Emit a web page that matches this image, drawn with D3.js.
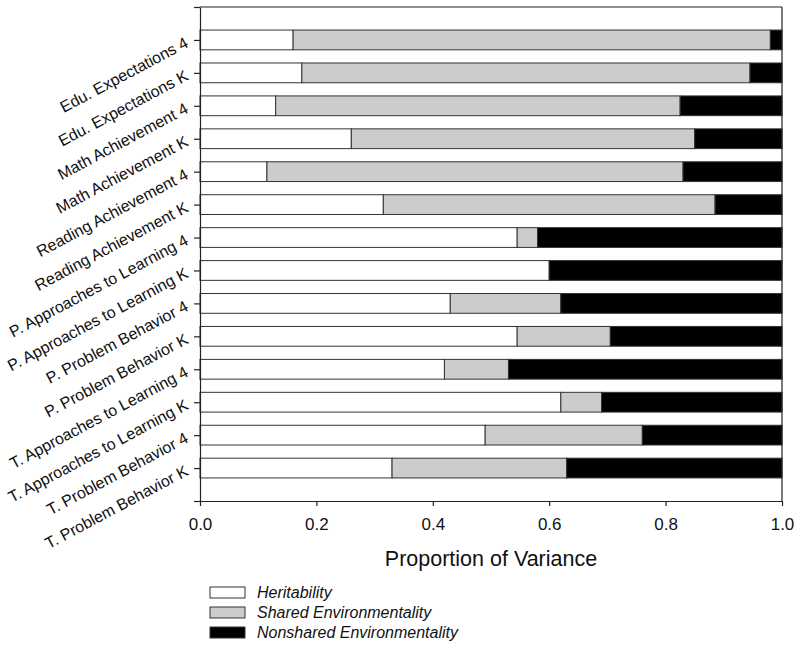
<!DOCTYPE html>
<html>
<head>
<meta charset="utf-8">
<script src="https://cdn.jsdelivr.net/npm/d3@7"></script>
<style>
  html, body { margin: 0; padding: 0; background: #fff; }
  svg { display: block; font-family: Arial, "Liberation Sans", sans-serif; }
</style>
</head>
<body>
<svg id="chart" width="800" height="648"></svg>
<script>
// ---- Data (top to bottom) ----
const categories = [
  "Edu. Expectations 4",
  "Edu. Expectations K",
  "Math Achievement 4",
  "Math Achievement K",
  "Reading Achievement 4",
  "Reading Achievement K",
  "P. Approaches to Learning 4",
  "P. Approaches to Learning K",
  "P. Problem Behavior 4",
  "P. Problem Behavior K",
  "T. Approaches to Learning 4",
  "T. Approaches to Learning K",
  "T. Problem Behavior 4",
  "T. Problem Behavior K"
];
const heritability = [0.16, 0.175, 0.13, 0.26, 0.115, 0.315, 0.545, 0.60, 0.43, 0.545, 0.42, 0.62, 0.49, 0.33];
const sharedEnv    = [0.82, 0.77, 0.695, 0.59, 0.715, 0.57, 0.035, 0.00, 0.19, 0.16, 0.11, 0.07, 0.27, 0.30];
const nonsharedEnv = [0.02, 0.055, 0.175, 0.15, 0.17, 0.115, 0.42, 0.40, 0.38, 0.295, 0.47, 0.31, 0.24, 0.37];
const seriesNames = ["Heritability", "Shared Environmentality", "Nonshared Environmentality"];
const seriesColors = ["#ffffff", "#cccccc", "#000000"];
const xTicks = [0, 0.2, 0.4, 0.6, 0.8, 1.0];
const xTitle = "Proportion of Variance";

(function () {
// ---- Layout ----
const svg = d3.select("#chart");
const pLeft = 200, pRight = 782, pTop = 7, pBottom = 501;

const x = d3.scaleLinear().domain([0, 1]).range([pLeft, pRight]);
// categories placed at positions 14 (top) .. 1 (bottom) on a 0..15 scale
const y = d3.scaleLinear().domain([0, 15]).range([pBottom, pTop]);
const pos = (i) => categories.length - i;
const barHalf = 0.3;

const rows = categories.map((c, i) => ({
  cat: c, idx: i,
  h: heritability[i], s: sharedEnv[i], n: nonsharedEnv[i]
}));
const stack = d3.stack().keys(["h", "s", "n"]);
const layers = stack(rows);

// ---- Bars ----
const g = svg.append("g");
layers.forEach((layer, li) => {
  g.selectAll(null)
    .data(layer)
    .join("rect")
    .attr("x", d => x(d[0]))
    .attr("width", d => Math.max(0, x(d[1]) - x(d[0])))
    .attr("y", d => y(pos(d.data.idx) + barHalf))
    .attr("height", d => y(pos(d.data.idx) - barHalf) - y(pos(d.data.idx) + barHalf))
    .attr("fill", seriesColors[li])
    .attr("stroke", "#333")
    .attr("stroke-width", 1);
});

// ---- Frame (top & right) ----
svg.append("line").attr("x1", pLeft).attr("x2", pRight).attr("y1", pTop).attr("y2", pTop)
  .attr("stroke", "#222").attr("stroke-width", 1.2);
svg.append("line").attr("x1", pRight).attr("x2", pRight).attr("y1", pTop).attr("y2", pBottom)
  .attr("stroke", "#222").attr("stroke-width", 1.2);

// ---- X axis ----
const xAxis = svg.append("g")
  .attr("transform", `translate(0,${pBottom})`)
  .call(d3.axisBottom(x).tickValues(xTicks).tickFormat(d3.format(".1f"))
        .tickSize(5).tickPadding(12).tickSizeOuter(0));
xAxis.select(".domain").attr("stroke", "#222").attr("stroke-width", 1.2);
xAxis.selectAll(".tick line").attr("stroke", "#222").attr("stroke-width", 1.2);
xAxis.selectAll(".tick text").attr("font-size", 17).attr("fill", "#111")
  .attr("font-family", "Arial, 'Liberation Sans', sans-serif");

// ---- Y axis (ticks only) ----
const yAxis = svg.append("g")
  .attr("transform", `translate(${pLeft},0)`)
  .call(d3.axisLeft(y).tickValues(d3.range(0, 16)).tickFormat("").tickSize(6).tickSizeOuter(0));
yAxis.select(".domain").attr("stroke", "#222").attr("stroke-width", 1.2);
yAxis.selectAll(".tick line").attr("stroke", "#222").attr("stroke-width", 1.2);

// ---- Rotated category labels ----
svg.append("g").selectAll("text")
  .data(categories)
  .join("text")
  .attr("transform", (d, i) => `translate(${pLeft - 14},${y(pos(i))}) rotate(-28)`)
  .attr("text-anchor", "end")
  .attr("dy", "0.45em")
  .attr("font-size", 16)
  .attr("fill", "#111")
  .text(d => d);

// ---- X title ----
svg.append("text")
  .attr("x", (pLeft + pRight) / 2)
  .attr("y", 566)
  .attr("text-anchor", "middle")
  .attr("font-size", 21.5)
  .attr("fill", "#111")
  .text(xTitle);

// ---- Legend ----
const legend = svg.append("g");
seriesNames.forEach((name, i) => {
  const cy = 592.5 + i * 20;
  legend.append("rect")
    .attr("x", 210).attr("y", cy - 5.5)
    .attr("width", 35).attr("height", 11)
    .attr("fill", seriesColors[i])
    .attr("stroke", "#333").attr("stroke-width", 1);
  legend.append("text")
    .attr("x", 257).attr("y", cy)
    .attr("dy", "0.35em")
    .attr("font-size", 16)
    .attr("font-style", "italic")
    .attr("fill", "#111")
    .text(name);
});
})();
</script>
</body>
</html>
